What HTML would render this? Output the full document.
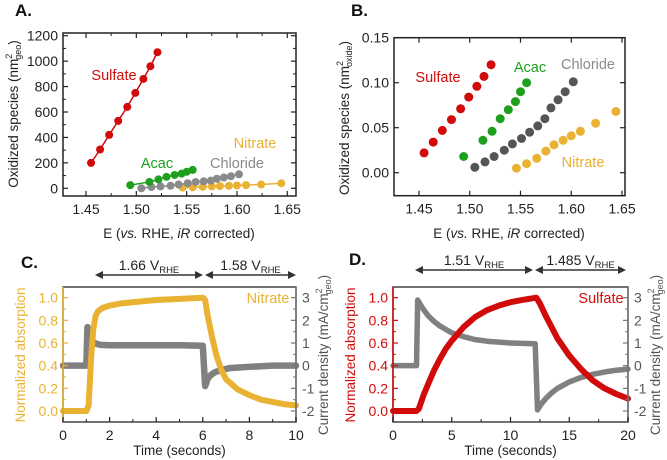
<!DOCTYPE html>
<html><head><meta charset="utf-8"><style>
html,body{margin:0;padding:0;background:#fff}
svg{display:block;font-family:"Liberation Sans",Arial,sans-serif}
</style></head><body>
<svg id="fig" width="667" height="460" viewBox="0 0 667 460"></svg>
<script>
// ---------- Panel A/B data ----------
const sulfateE=[1.455,1.464,1.473,1.482,1.491,1.499,1.507,1.514,1.521];
const sulfateA=[200,305,420,530,640,750,860,960,1070];
const sulfateB=[0.022,0.034,0.047,0.059,0.071,0.084,0.096,0.107,0.120];
const acacE=[1.494,1.513,1.522,1.530,1.538,1.545,1.550,1.556];
const acacA=[25,50,70,90,105,115,130,145];
const acacB=[0.018,0.036,0.046,0.060,0.070,0.079,0.090,0.100];
const chlorideE=[1.505,1.515,1.524,1.534,1.542,1.551,1.559,1.567,1.574,1.580,1.587,1.594,1.602];
const chlorideA=[0,10,15,20,30,40,50,55,60,75,85,95,110];
const chlorideB=[0.006,0.012,0.018,0.025,0.032,0.038,0.045,0.052,0.060,0.072,0.081,0.090,0.101];
const nitrateE=[1.546,1.556,1.566,1.575,1.583,1.592,1.600,1.609,1.624,1.644];
const nitrateA=[5,8,12,15,18,20,22,25,30,40];
const nitrateB=[0.005,0.010,0.016,0.024,0.031,0.036,0.041,0.046,0.055,0.068];
const eTicks=["1.45","1.50","1.55","1.60","1.65"];
const aTicks=["0","200","400","600","800","1000","1200"];
const bTicks=["0.00","0.05","0.10","0.15"];
// ---------- Panel C data ----------
const cTime=[0,0.5,1.0,1.1,1.2,1.3,1.4,1.5,1.7,2.0,2.5,3,4,5,6.0,6.1,6.2,6.4,6.6,6.8,7.0,7.5,8,8.5,9,9.5,10];
const cAbs=[0,0,0,0.05,0.45,0.72,0.84,0.88,0.91,0.93,0.95,0.96,0.98,0.99,1.0,0.98,0.85,0.65,0.48,0.36,0.28,0.19,0.14,0.10,0.08,0.06,0.05];
const cCurT=[0,0.5,1.0,1.05,1.1,1.2,1.3,1.4,1.6,2,3,4,5,6.0,6.1,6.15,6.2,6.3,6.5,6.8,7.2,8,9,10];
const cCur=[0,0,0,1.7,1.5,1.2,1.05,0.98,0.92,0.9,0.9,0.9,0.9,0.88,-0.9,-0.75,-0.6,-0.45,-0.3,-0.18,-0.1,-0.05,0,0];
// ---------- Panel D data ----------
const dTime=[0,1,2.0,2.2,2.6,3.0,3.5,4,4.5,5,6,7,8,9,10,11,12.2,12.5,13,13.5,14,15,16,17,18,19,20];
const dAbs=[0,0,0,0.02,0.14,0.24,0.36,0.46,0.55,0.62,0.74,0.83,0.89,0.93,0.96,0.98,1.0,0.95,0.84,0.74,0.64,0.49,0.37,0.27,0.2,0.15,0.11];
const dCurT=[0,1,2.0,2.1,2.5,3,3.5,4,5,6,7,8,10,12.1,12.3,12.6,13,13.5,14,15,16,17,18,19,20];
const dCur=[0,0,0,2.9,2.55,2.2,1.95,1.75,1.45,1.28,1.15,1.08,1.0,0.97,-1.95,-1.7,-1.45,-1.2,-1.0,-0.72,-0.52,-0.38,-0.28,-0.2,-0.15];
const tTicksC=["0","2","4","6","8","10"];
const tTicksD=["0","5","10","15","20"];
const absTicks=["0.0","0.2","0.4","0.6","0.8","1.0"];
const curTicks=["-2","-1","0","1","2","3"];

const NS="http://www.w3.org/2000/svg";
const svg=document.getElementById('fig');
function el(tag,attrs,parent,text){const e=document.createElementNS(NS,tag);for(const k in attrs)e.setAttribute(k,attrs[k]);if(text!==undefined)e.textContent=text;(parent||svg).appendChild(e);return e;}
function lin(d0,d1,r0,r1){return v=>r0+(v-d0)*(r1-r0)/(d1-d0);}

function frame(g,x0,y0,x1,y1,col){
  const r=el('rect',{x:x0,y:y0,width:x1-x0,height:y1-y0,fill:'none',stroke:col||'#222','stroke-width':1.5},g);
  
}
function panelLabel(t,x,y){const e=el('text',{x:x,y:y,'font-size':17,'font-weight':'bold',fill:'#111'},svg,t);}

function xAxis(g,ticks,sx,y0,y1,col,minor,top){
  ticks.forEach(t=>{const x=sx(parseFloat(t));
    el('line',{x1:x,x2:x,y1:y1,y2:y1-5,stroke:col,'stroke-width':1.2},g);
    if(top)el('line',{x1:x,x2:x,y1:y0,y2:y0+5,stroke:col,'stroke-width':1.2},g);
    const tx=el('text',{x:x,y:y1+18,'font-size':14,'text-anchor':'middle',fill:'#222'},g,t);
    
  });
  if(minor){for(let i=0;i<ticks.length-1;i++){const x=(sx(parseFloat(ticks[i]))+sx(parseFloat(ticks[i+1])))/2;
    el('line',{x1:x,x2:x,y1:y1,y2:y1-3,stroke:col,'stroke-width':1},g);
    if(top)el('line',{x1:x,x2:x,y1:y0,y2:y0+3,stroke:col,'stroke-width':1},g);}}
}
function yAxis(g,ticks,sy,x,dir,col,labcol,minor){
  ticks.forEach(t=>{const y=sy(parseFloat(t));
    el('line',{x1:x,x2:x+5*dir,y1:y,y2:y,stroke:col,'stroke-width':1.2},g);
    if(labcol){const tx=el('text',{x:dir>0?x-5:x+6,y:y+5,'font-size':14,'text-anchor':dir>0?'end':'start',fill:labcol},g,t);
    }
  });
  if(minor){for(let i=0;i<ticks.length-1;i++){const y=(sy(parseFloat(ticks[i]))+sy(parseFloat(ticks[i+1])))/2;
    el('line',{x1:x,x2:x+3*dir,y1:y,y2:y,stroke:col,'stroke-width':1},g);}}
}
function vTitle(g,x,y,parts,col,name){
  const t=el('text',{transform:`translate(${x},${y}) rotate(-90)`,'font-size':13.5,'text-anchor':'middle',fill:col},g);
  
  parts.forEach(p=>{el('tspan',p.a||{},t,p.t);});
}
function series(g,xs,ys,sx,sy,col,r,line,name){
  if(line){const l=el('polyline',{points:xs.map((v,i)=>sx(v)+','+sy(ys[i])).join(' '),fill:'none',stroke:col,'stroke-width':1.5},g);
    }
  xs.forEach((v,i)=>{const c=el('circle',{cx:sx(v),cy:sy(ys[i]),r:r,fill:col},g);
    });
}
function label(g,x,y,t,col,name){const e=el('text',{x:x,y:y,'font-size':14.5,'text-anchor':'middle',fill:col},g,t);}

const RED='#d10a0a',GRN='#1ea01e',GRY='#8a8a8a',DGRY='#555',GOLD='#e9b232';

// ---------- Panel A ----------
(function(){
  const g=el('g',{});
  const sx=lin(1.45,1.65,86,287.3), sy=lin(0,1200,188.3,35.7);
  frame(g,63,33,296,196);
  xAxis(g,eTicks,sx,33,196,'#222',true,true);
  yAxis(g,aTicks,sy,63,1,'#222','#222',true);yAxis(g,aTicks,sy,296,-1,'#222',null,true);
  series(g,nitrateE,nitrateA,sx,sy,GOLD,4,true,'nitrate-a');
  series(g,chlorideE,chlorideA,sx,sy,GRY,4,true,'chloride-a');
  series(g,acacE,acacA,sx,sy,GRN,4,true,'acac-a');
  series(g,sulfateE,sulfateA,sx,sy,RED,4,true,'sulfate-a');
  label(g,114,80,'Sulfate',RED,'sulfate-label');label(g,157,168,'Acac',GRN,'acac-label');
  label(g,237,168,'Chloride',GRY,'chloride-label');label(g,255,148,'Nitrate',GOLD,'nitrate-label');
  vTitle(g,18,114,[{t:'Oxidized species (nm'},{t:'2',a:{'font-size':9,dy:-6}},{t:'geo',a:{'font-size':9,dy:9,dx:-6}},{t:')',a:{dy:-3}}],'#222','y-axis-title-a');
  const xt=el('text',{x:179,y:238,'font-size':13.5,'text-anchor':'middle',fill:'#222'},g);
  
  el('tspan',{},xt,'E (');el('tspan',{'font-style':'italic'},xt,'vs.');el('tspan',{},xt,' RHE, ');el('tspan',{'font-style':'italic'},xt,'iR');el('tspan',{},xt,' corrected)');
  panelLabel('A.',15,16);
})();
// ---------- Panel B ----------
(function(){
  const g=el('g',{});
  const sx=lin(1.45,1.65,419,622), sy=lin(0,0.15,172.7,37.7);
  frame(g,394,37.7,625,195.7);
  xAxis(g,eTicks,sx,37.7,195.7,'#222',false,true);
  yAxis(g,bTicks,sy,394,1,'#222','#222',false);yAxis(g,bTicks,sy,625,-1,'#222',null,false);
  series(g,sulfateE,sulfateB,sx,sy,RED,4.5,false,'sulfate-b');
  series(g,acacE,acacB,sx,sy,GRN,4.5,false,'acac-b');
  series(g,chlorideE,chlorideB,sx,sy,DGRY,4.5,false,'chloride-b');
  series(g,nitrateE,nitrateB,sx,sy,GOLD,4.5,false,'nitrate-b');
  label(g,438,82,'Sulfate',RED,'sulfate-label');label(g,530,72,'Acac',GRN,'acac-label');
  label(g,588,69,'Chloride',GRY,'chloride-label');label(g,583,167,'Nitrate',GOLD,'nitrate-label');
  vTitle(g,349,118,[{t:'Oxidized species (nm'},{t:'2',a:{'font-size':9,dy:-6}},{t:'oxide',a:{'font-size':9,dy:9,dx:-6}},{t:')',a:{dy:-3}}],'#222','y-axis-title-b');
  const xt=el('text',{x:509,y:238,'font-size':13.5,'text-anchor':'middle',fill:'#222'},g);
  
  el('tspan',{},xt,'E (');el('tspan',{'font-style':'italic'},xt,'vs.');el('tspan',{},xt,' RHE, ');el('tspan',{'font-style':'italic'},xt,'iR');el('tspan',{},xt,' corrected)');
  panelLabel('B.',351,16);
})();
// ---------- time panels ----------
function timePanel(o){
  const g=el('g',{});
  const sx=lin(0,o.tmax,o.x0,o.x1), sy=lin(0,1,411,297.7), sc=lin(-2,3,411,297.7);
  const pl=el('polyline',{points:o.curT.map((t,i)=>sx(t)+','+sc(o.cur[i])).join(' '),fill:'none',stroke:'#999','stroke-width':1},g);
  
  const dense=el('polyline',{points:o.curT.map((t,i)=>sx(t)+','+sc(o.cur[i])).join(' '),fill:'none',stroke:'#808080','stroke-width':o.cw,'stroke-linejoin':'round','stroke-linecap':'round'},g);
  
  const ab=el('polyline',{points:o.time.map((t,i)=>sx(t)+','+sy(o.abs[i])).join(' '),fill:'none',stroke:o.col,'stroke-width':6,'stroke-linejoin':'round','stroke-linecap':'round'},g);
  
  frame(g,o.x0,287,o.x1,422,'#444');
  el('line',{x1:o.x0,x2:o.x0,y1:287,y2:422,stroke:o.col,'stroke-width':1.5},g);
  el('line',{x1:o.x1,x2:o.x1,y1:287,y2:422,stroke:'#777','stroke-width':1.5},g);
  xAxis(g,o.tt,sx,287,422,'#222',true,false);
  yAxis(g,absTicks,v=>sy(v),o.x0,1,o.col,o.col,true);
  yAxis(g,curTicks,v=>sc(v),o.x1,-1,'#777','#555',true);
  label(g,o.lx,303,o.lab,o.col,'series-label');
  vTitle(g,o.x0-38,355,[{t:'Normalized absorption'}],o.col,'left-axis-title');
  vTitle(g,o.x1+32,355,[{t:'Current density (mA/cm'},{t:'2',a:{'font-size':9,dy:-6}},{t:'geo',a:{'font-size':9,dy:9,dx:-6}},{t:')',a:{dy:-3}}],'#555','right-axis-title');
  const xt=el('text',{x:(o.x0+o.x1)/2,y:455,'font-size':13.5,'text-anchor':'middle',fill:'#222'},g,'Time (seconds)');
  
  o.arrows.forEach(a=>{
    const ln=el('line',{x1:a[0]+5,x2:a[1]-5,y1:o.ay,y2:o.ay,stroke:'#333','stroke-width':1.5},g);
    
    el('polygon',{points:`${a[0]},${o.ay} ${a[0]+8},${o.ay-4} ${a[0]+8},${o.ay+4}`,fill:'#333'},g);
    el('polygon',{points:`${a[1]},${o.ay} ${a[1]-8},${o.ay-4} ${a[1]-8},${o.ay+4}`,fill:'#333'},g);
    const t=el('text',{x:(a[0]+a[1])/2,y:o.ay-5,'font-size':14,'text-anchor':'middle',fill:'#222'},g);
    
    el('tspan',{},t,a[2]+' V');el('tspan',{'font-size':9.5,dy:3},t,'RHE');
  });
}
timePanel({name:'panel-c-chart',x0:63,x1:296,tmax:10,time:cTime,abs:cAbs,curT:cCurT,cur:cCur,tt:tTicksC,col:GOLD,cw:6.5,lab:'Nitrate',lx:268,ay:275,
  arrows:[[95,203,'1.66'],[205,296,'1.58']]});
timePanel({name:'panel-d-chart',x0:393,x1:628,tmax:20,time:dTime,abs:dAbs,curT:dCurT,cur:dCur,tt:tTicksD,col:'#d10a0a',cw:5.5,lab:'Sulfate',lx:601,ay:270,
  arrows:[[415,533,'1.51'],[535,626,'1.485']]});
panelLabel('C.',21,268);
panelLabel('D.',349,265);
</script>
</body></html>
